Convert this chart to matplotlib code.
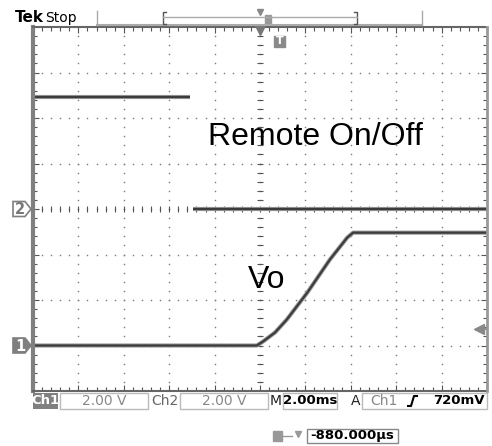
import matplotlib.pyplot as plt
import numpy as np
from matplotlib.patches import Polygon, Rectangle

# scope settings
volts_per_div = 2.0
ms_per_div = 2.0
ch1_offset = -3.0     # divisions
ch2_offset = 0.0
trig_level = 0.72     # V on Ch1

# Vo (Ch1) trace, time in ms, volts
vo_t = [-10, -0.14, 0.14, 0.66, 1.18, 2.08, 3.08, 3.84, 4.1, 10]
vo_v = [0, 0, 0.18, 0.57, 1.14, 2.32, 3.78, 4.74, 4.96, 4.96]

# Remote On/Off (Ch2) trace
rem_t = [-10, -3.08, np.nan, -2.95, 10]
rem_v = [4.92, 4.92, np.nan, 0, 0]

status_labels = ['2.00 V', '2.00 V', '2.00ms', '720mV']
trig_pos = '-880.000µs'

fig = plt.figure(figsize=(4.92, 4.46), dpi=100)
ax = fig.add_axes([33/492, 1-391/446, 454/492, 364/446])
ax.set_xlim(-5, 5)
ax.set_ylim(-4, 4)

# graticule dots
gcol = '#7a7a7a'
steps = np.arange(-5, 5.01, 0.2)
vsteps = np.arange(-4, 4.01, 0.2)
for i in range(-4, 5):
    ax.plot(np.full(len(vsteps), i), vsteps, ls='none', marker='s', ms=1.0, color=gcol, mew=0)
for j in range(-3, 4):
    ax.plot(steps, np.full(len(steps), j), ls='none', marker='s', ms=1.0, color=gcol, mew=0)
# center crosshair ticks
ax.plot(np.zeros(len(vsteps)), vsteps, ls='none', marker='_', ms=4, mew=0.8, color='#555')
ax.plot(steps, np.zeros(len(steps)), ls='none', marker='|', ms=4, mew=0.8, color='#555')

# border ticks
ax.set_xticks(np.arange(-5, 6, 1))
ax.set_yticks(np.arange(-4, 5, 1))
ax.set_xticks(steps, minor=True)
ax.set_yticks(vsteps, minor=True)
ax.tick_params(which='both', direction='in', top=True, right=True, labelleft=False,
               labelbottom=False, color='#555', width=0.8)
ax.tick_params(which='major', length=4)
ax.tick_params(which='minor', length=3)
ax.spines['left'].set(color='#808080', linewidth=3)
ax.spines['right'].set(color='#999999', linewidth=2)
ax.spines['top'].set(color='#666666', linewidth=1.5, linestyle=(0, (1, 1)))
ax.spines['bottom'].set(color='#666666', linewidth=1.5, linestyle=(0, (1, 1)))

# traces
tr = '#3c3c3c'
x1 = np.array(vo_t) / ms_per_div
y1 = np.array(vo_v) / volts_per_div + ch1_offset
x2 = np.array(rem_t) / ms_per_div
y2 = np.array(rem_v) / volts_per_div + ch2_offset
for x, y in [(x1, y1), (x2, y2)]:
    ax.plot(x, y, color='#9a9a9a', lw=3.0, solid_capstyle='butt')
    ax.plot(x, y, color=tr, lw=1.6, solid_capstyle='butt')

ax.text(-1.15, 1.40, 'Remote On/Off', fontsize=23, family='Liberation Sans', va='baseline')
ax.text(-0.26, -1.73, 'Vo', fontsize=23, family='Liberation Sans', va='baseline')

# overlay in pixel coordinates for the scope chrome
ov = fig.add_axes([0, 0, 1, 1])
ov.set_xlim(0, 492)
ov.set_ylim(446, 0)
ov.axis('off')
ov.patch.set_alpha(0)


def to_px_y(yv):
    # vertical graticule position -> overlay pixel row
    disp = ax.transData.transform((0, yv))
    return ov.transData.inverted().transform(disp)[1]


def to_px_x(xv):
    disp = ax.transData.transform((xv, 0))
    return ov.transData.inverted().transform(disp)[0]


# channel markers
def ch_marker(yv, label, filled):
    yp = to_px_y(yv)
    pts = [(13, -7.5), (25, -7.5), (31, 0), (25, 7.5), (13, 7.5)]
    ov.add_patch(Polygon([(px, yp + dy) for px, dy in pts], closed=True,
                         facecolor='#7f7f7f' if filled else 'white',
                         edgecolor='#7f7f7f', lw=1.2, zorder=3))
    ov.text(20, yp + 0.5, label, ha='center', va='center', fontsize=10.5,
            fontweight='bold', color='white' if filled else '#777', zorder=4)


ch_marker(ch2_offset, '2', False)
ch_marker(ch1_offset, '1', True)

# trigger level arrow on the right
yt = to_px_y(ch1_offset + trig_level / volts_per_div)
ov.plot([478, 486], [yt, yt], color='#888', lw=1.2)
ov.plot([479], [yt], marker='<', ms=7, color='#888')

# trigger position marker at top
xc = to_px_x(0)
ov.plot([xc], [30], marker='v', ms=7, color='#777')
ov.add_patch(Rectangle((274, 36), 11, 11, facecolor='#8a8a8a', edgecolor='#8a8a8a'))
ov.text(279.5, 41.5, 'T', ha='center', va='center', color='white', fontsize=8, fontweight='bold')

# header
ov.text(15, 22, 'Tek', fontsize=11, fontweight='bold', family='DejaVu Sans', va='baseline')
ov.text(45, 22, 'Stop', fontsize=10, family='DejaVu Sans', va='baseline')
ov.plot([97, 97], [11, 25], color='#aaa', lw=1)
ov.plot([422, 422], [11, 25], color='#aaa', lw=1)
ov.plot([97, 422], [25, 25], color='#aaa', lw=1.5)
ov.plot([166, 163, 163, 166], [12, 12, 24, 24], color='#555', lw=1)
ov.plot([354, 357, 357, 354], [12, 12, 24, 24], color='#555', lw=1)
ov.plot([163, 357], [17, 17], color='#aaa', lw=1)
ov.plot([xc], [12], marker='v', ms=5, color='#888')
ov.add_patch(Rectangle((265, 15), 6, 9, facecolor='#999', edgecolor='#999'))

# status bar
sf = dict(fontsize=10, va='center', family='DejaVu Sans')
bf = dict(fontsize=9.5, va='center', family='DejaVu Sans', fontweight='bold')
ov.add_patch(Rectangle((33, 393), 25, 16, facecolor='#808080', edgecolor='none'))
ov.text(45.5, 401, 'Ch1', ha='center', color='white', **bf)
ov.add_patch(Rectangle((60, 393), 88, 16, facecolor='white', edgecolor='#bbb', lw=1))
ov.text(104, 401, status_labels[0], ha='center', color='#888', **sf)
ov.text(151, 401, 'Ch2', ha='left', color='#666', **sf)
ov.add_patch(Rectangle((180, 393), 88, 16, facecolor='white', edgecolor='#bbb', lw=1))
ov.text(224, 401, status_labels[1], ha='center', color='#888', **sf)
ov.text(270, 401, 'M', ha='left', color='#222', **sf)
ov.add_patch(Rectangle((283, 393), 54, 16, facecolor='white', edgecolor='#bbb', lw=1))
ov.text(310, 401, status_labels[2], ha='center', color='black', **bf)
ov.text(351, 401, 'A', ha='left', color='#222', **sf)
ov.add_patch(Rectangle((362, 393), 125, 16, facecolor='white', edgecolor='#bbb', lw=1))
ov.text(370, 401, 'Ch1', ha='left', color='#888', **sf)
ov.plot([408, 411, 414, 417], [406, 406, 396, 396], color='black', lw=1.5)
ov.text(485, 401, status_labels[3], ha='right', color='black', **bf)

# trigger position readout
ov.add_patch(Rectangle((273, 431), 9, 10, facecolor='#999', edgecolor='#999'))
ov.plot([283, 292], [436, 436], color='#999', lw=1)
ov.plot([298], [434], marker='v', ms=5, color='#999')
ov.add_patch(Rectangle((307, 429), 91, 14, facecolor='white', edgecolor='#888', lw=1))
ov.text(352, 436, trig_pos, ha='center', color='black', **bf)

fig.savefig('out.png', dpi=100)
